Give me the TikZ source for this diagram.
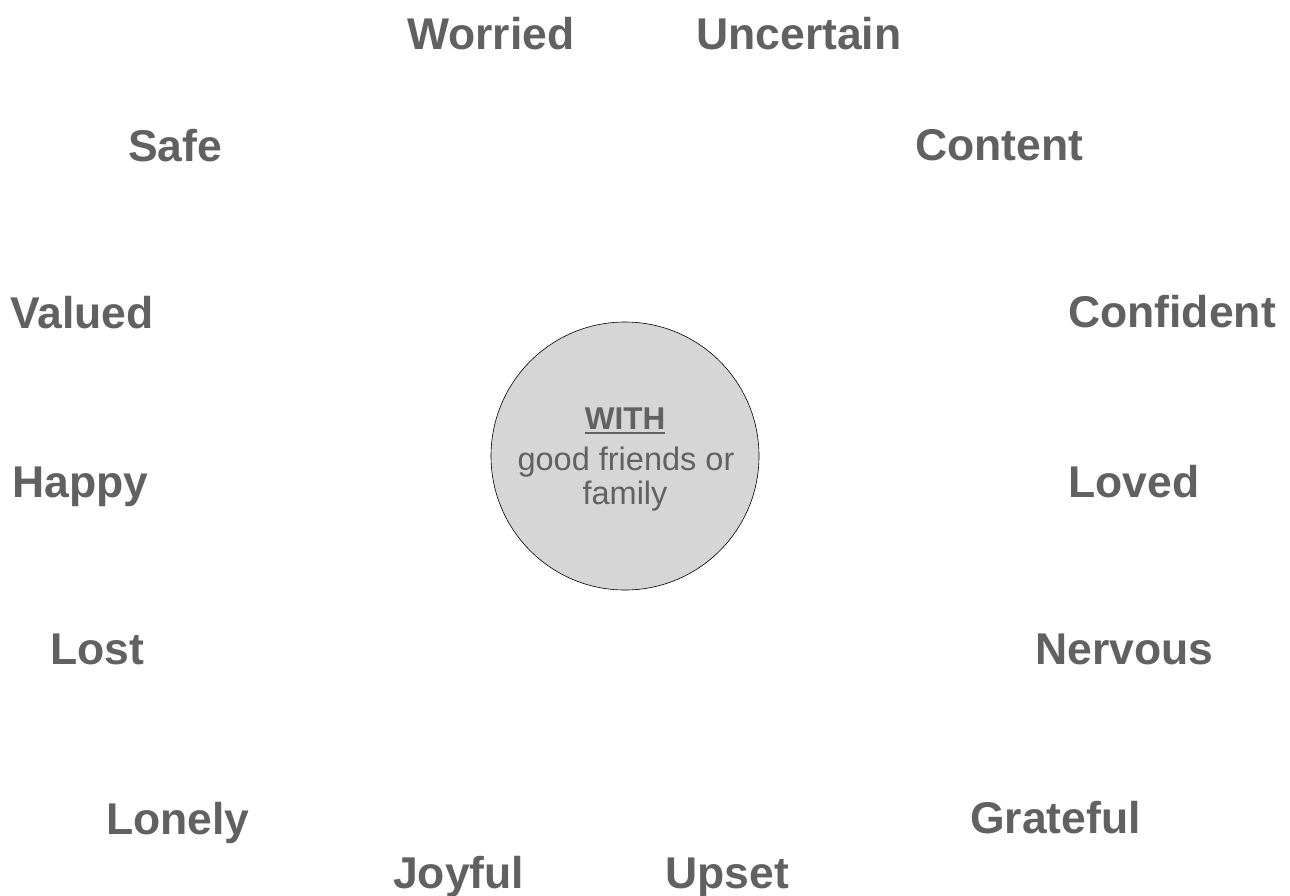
\documentclass[tikz,border=0pt]{standalone}
\usepackage{fontspec}
\setmainfont{Liberation Sans}
\definecolor{txt}{HTML}{616161}
\definecolor{disc}{HTML}{D6D6D6}
\tikzset{
  feel/.style={anchor=base west, inner sep=0pt, text=txt, font=\fontsize{44.5}{50}\selectfont\bfseries},
  inner/.style={anchor=base, inner sep=0pt, text=txt, font=\fontsize{32.5}{36}\selectfont},
  hub/.style={circle, draw=black, line width=0.6pt, fill=disc, minimum size=268pt, inner sep=0pt}
}
\begin{document}
\begin{tikzpicture}[x=1pt, y=-1pt]
\useasboundingbox (0,0) rectangle (1290,895);
\node[hub] (c) at (625,456) {};
\node[inner, font=\fontsize{31.5}{36}\selectfont\bfseries] (w) at (625,429) {WITH};
\draw[txt, line width=1.6pt] (w.base west) ++(0,4) coordinate (u1) -- (w.base east |- u1);
\node[inner] (g) at (626,470) {good friends or};
\node[inner] (f) at (625,504) {family};
\node[feel] (worried) at (407,49) {Worried};
\node[feel] (uncertain) at (696,49) {Uncertain};
\node[feel] (safe) at (128,161) {Safe};
\node[feel] (content) at (915,160) {Content};
\node[feel] (valued) at (10,328) {Valued};
\node[feel] (confident) at (1068,327) {Confident};
\node[feel] (happy) at (12,497) {Happy};
\node[feel] (loved) at (1068,497) {Loved};
\node[feel] (lost) at (50,664) {Lost};
\node[feel] (nervous) at (1035,664) {Nervous};
\node[feel] (lonely) at (106,834) {Lonely};
\node[feel] (grateful) at (970,833) {Grateful};
\node[feel] (joyful) at (393,888) {Joyful};
\node[feel] (upset) at (665,888) {Upset};
\end{tikzpicture}
\end{document}
